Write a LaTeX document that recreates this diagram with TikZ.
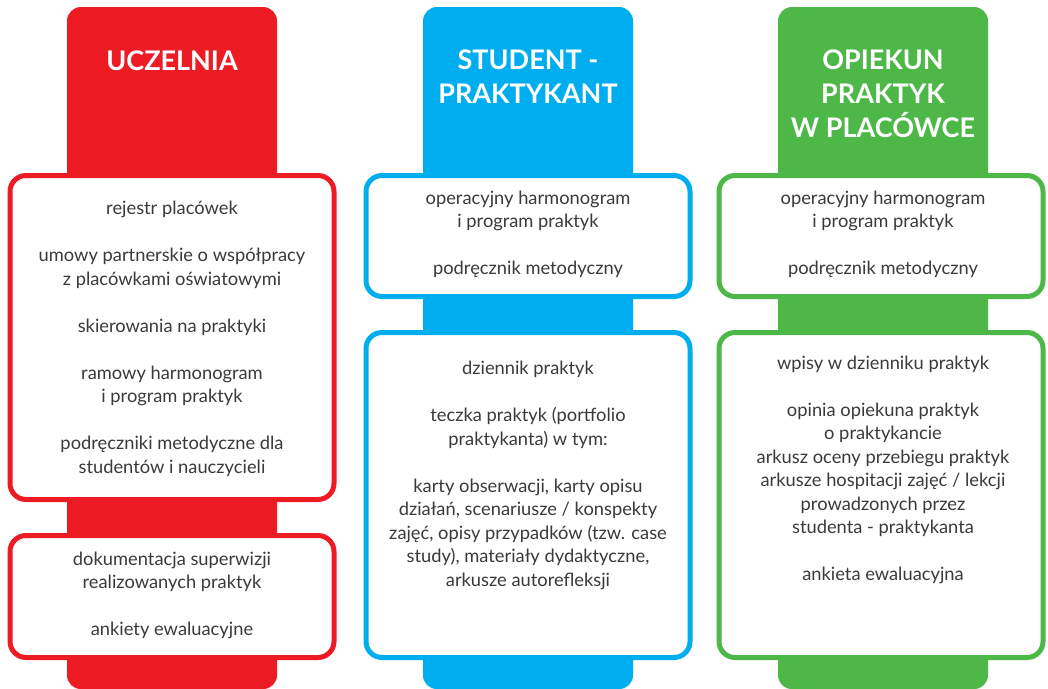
\documentclass[tikz,border=0pt]{standalone}
\usepackage{fontspec}
\setmainfont{Lato}[BoldFont={Lato Bold}]
\usetikzlibrary{shadows}

\definecolor{rossoU}{HTML}{ED1C24}
\definecolor{bluS}{HTML}{00AEEF}
\definecolor{verdeO}{HTML}{4DB848}
\definecolor{testo}{HTML}{3A3A3A}

\begin{document}
\begin{tikzpicture}[x=1pt, y=-1pt,
		% Colonna colorata dietro ai riquadri
		colonna style/.style={rectangle, rounded corners=14pt, fill=#1, inner sep=0pt,
			minimum width=210pt, minimum height=682pt,
			drop shadow={opacity=0.12, shadow xshift=0pt, shadow yshift=-1.5pt}},
		% Riquadro bianco con bordo colorato
		box style/.style={rectangle, rounded corners=16pt, draw=#1, line width=5pt, fill=white,
			inner sep=0pt, minimum width=324pt,
			drop shadow={opacity=0.12, shadow xshift=0pt, shadow yshift=-1.5pt}},
		% Titolo della colonna (bianco, grassetto)
		titolo style/.style={anchor=north, inner sep=0pt, align=center, text=white,
			font=\bfseries\fontsize{27}{34}\selectfont, execute at begin node=\strut},
		% Testo dentro i riquadri
		testo style/.style={anchor=north, inner sep=0pt, align=center, text=testo,
			font=\fontsize{18.3}{23.5}\selectfont, execute at begin node=\strut}
	]

	\clip (0,0) rectangle (1048,688);

	% =================================
	% COLONNE
	% =================================
	\node[colonna style=rossoU] (colU) at (172,348) {};
	\node[colonna style=bluS] (colS) at (528,348) {};
	\node[colonna style=verdeO] (colO) at (883,348) {};

	% =================================
	% TITOLI
	% =================================
	\node[titolo style] (tU) at (172,46) {UCZELNIA};
	\node[titolo style] (tS) at (528,50) {STUDENT -\\PRAKTYKANT};
	\node[titolo style] (tO) at (883,50) {OPIEKUN\\PRAKTYK\\W PLACÓWCE};

	% =================================
	% RIQUADRI
	% =================================
	\node[box style=rossoU, minimum height=324pt] (bU1) at (172,337.5) {};
	\node[box style=rossoU, minimum height=122pt] (bU2) at (172,596.5) {};
	\node[box style=bluS, minimum height=121pt] (bS1) at (528,236) {};
	\node[box style=bluS, minimum height=325pt] (bS2) at (528,495) {};
	\node[box style=verdeO, minimum height=121pt] (bO1) at (881,236) {};
	\node[box style=verdeO, minimum height=325pt] (bO2) at (881,495) {};

	% =================================
	% TESTI
	% =================================
	\node[testo style] (xU1) at (172,201) {rejestr placówek\\[23.5pt]
		umowy partnerskie o współpracy\\z placówkami oświatowymi\\[23.5pt]
		skierowania na praktyki\\[23.5pt]
		ramowy harmonogram\\i program praktyk\\[23.5pt]
		podręczniki metodyczne dla\\studentów i nauczycieli};
	\node[testo style] (xU2) at (172,551.5) {dokumentacja superwizji\\realizowanych praktyk\\[23.5pt]
		ankiety ewaluacyjne};

	\node[testo style] (xS1) at (528,190.5) {operacyjny harmonogram\\i program praktyk\\[23.5pt]
		podręcznik metodyczny};
	\node[testo style] (xS2) at (528,361) {dziennik praktyk\\[23.5pt]
		teczka praktyk (portfolio\\praktykanta) w tym:\\[23.5pt]
		karty obserwacji, karty opisu\\działań, scenariusze / konspekty\\zajęć, opisy przypadków (tzw. case\\study), materiały dydaktyczne,\\arkusze autorefleksji};

	\node[testo style] (xO1) at (883,190.5) {operacyjny harmonogram\\i program praktyk\\[23.5pt]
		podręcznik metodyczny};
	\node[testo style] (xO2) at (883,355.5) {wpisy w dzienniku praktyk\\[23.5pt]
		opinia opiekuna praktyk\\o praktykancie\\arkusz oceny przebiegu praktyk\\arkusze hospitacji zajęć / lekcji\\prowadzonych przez\\studenta - praktykanta\\[23.5pt]
		ankieta ewaluacyjna};

\end{tikzpicture}
\end{document}
